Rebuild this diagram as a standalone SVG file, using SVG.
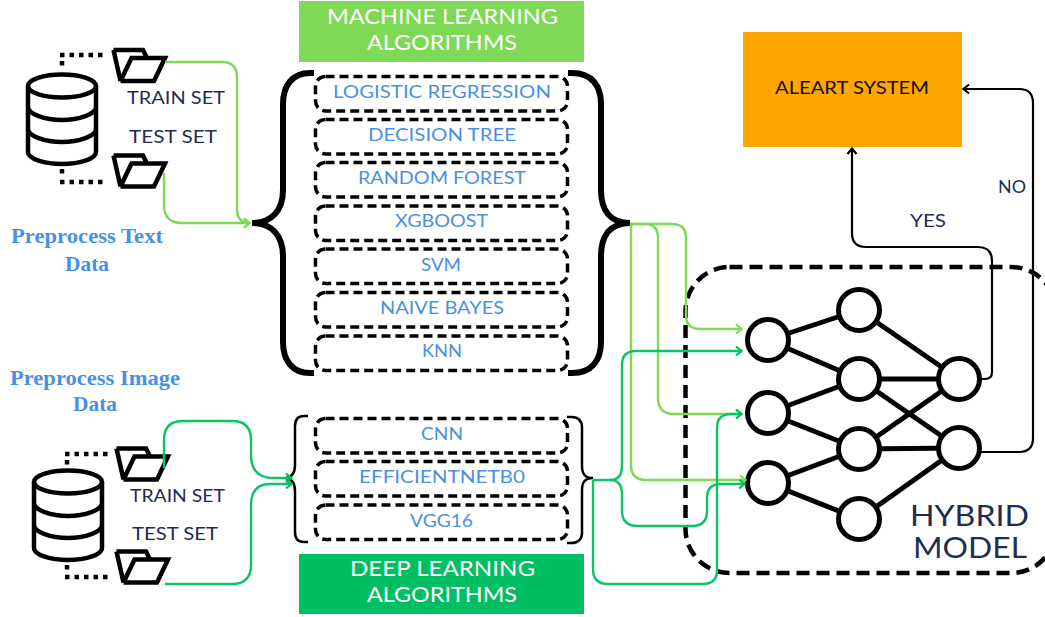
<svg xmlns="http://www.w3.org/2000/svg" width="1045" height="617" viewBox="0 0 1045 617">
<defs>
<marker id="aL" viewBox="0 0 10 12" refX="9" refY="6" markerWidth="10" markerHeight="12" markerUnits="userSpaceOnUse" orient="auto"><path d="M3 1.500L8.500 6L3 10.500" fill="none" stroke="#7ed957" stroke-width="2.200"/></marker>
<marker id="aD" viewBox="0 0 10 12" refX="9" refY="6" markerWidth="10" markerHeight="12" markerUnits="userSpaceOnUse" orient="auto"><path d="M3 1.500L8.500 6L3 10.500" fill="none" stroke="#00bf63" stroke-width="2.200"/></marker>
<marker id="aK" viewBox="0 0 10 12" refX="9" refY="6" markerWidth="10" markerHeight="12" markerUnits="userSpaceOnUse" orient="auto"><path d="M3 1.500L8.500 6L3 10.500" fill="none" stroke="#000" stroke-width="2.200"/></marker>
<g id="folder"><path d="M113.500 50H143L147 58M120.500 81L113.500 50M120.500 81H154L165 58H131.500L120.500 81" fill="none" stroke="#000" stroke-width="4.500" stroke-linejoin="miter"/></g>
<g id="db"><ellipse cx="0" cy="0" rx="34" ry="11.500" fill="#fff" stroke="#000" stroke-width="4.500"/><path d="M-34 0V66C-34 73 -17 78 0 78S34 73 34 66V0M-34 21C-34 28 -17 34 0 34S34 28 34 21M-34 43C-34 50 -17 56 0 56S34 50 34 43" fill="none" stroke="#000" stroke-width="4.500"/></g>
</defs>
<style>
.t{font-family:"Lato","Liberation Sans",sans-serif;font-weight:400}
.navy{fill:#1f2d50;font-size:17px}
.blue{fill:#4a90e2;font-size:17px}
.head{fill:#fff;font-size:21px}
.pre{font-family:"Liberation Serif",serif;font-weight:700;font-size:21px;fill:#4a90e2}
.box{fill:#fff;stroke:#000;stroke-width:3.500;stroke-dasharray:9 5}
.brace{fill:none;stroke:#000;stroke-linecap:butt}
.dots{fill:none;stroke:#000;stroke-width:4.500;stroke-dasharray:4.500 5}
.edge{stroke:#000;stroke-width:5}
.neuron{fill:#fff;stroke:#000;stroke-width:5}
.cl{fill:none;stroke:#7ed957;stroke-width:2.400}
.cd{fill:none;stroke:#0fc266;stroke-width:2.400}
.ck{fill:none;stroke:#000;stroke-width:2.200}
</style>
<rect width="1045" height="617" fill="#fff"/>

<g id="ml-header"><rect x="299" y="1" width="285" height="61" fill="#7ed957"/>
<text class="t head" x="327" y="24" textLength="231" lengthAdjust="spacingAndGlyphs">MACHINE LEARNING</text>
<text class="t head" x="367" y="50" textLength="150" lengthAdjust="spacingAndGlyphs">ALGORITHMS</text></g>
<g id="dl-header"><rect x="299" y="554" width="285" height="60" fill="#00bf63"/>
<text class="t head" x="350" y="576" textLength="185" lengthAdjust="spacingAndGlyphs">DEEP LEARNING</text>
<text class="t head" x="367" y="602" textLength="150" lengthAdjust="spacingAndGlyphs">ALGORITHMS</text></g>
<g id="alert"><rect x="743" y="32" width="219" height="115" fill="#ffa500"/>
<text class="t" x="775" y="94" font-size="17" fill="#111" textLength="154" lengthAdjust="spacingAndGlyphs">ALEART SYSTEM</text></g>

<g id="hybrid"><rect x="685.500" y="267" width="370" height="306" rx="44" fill="none" stroke="#000" stroke-width="4.500" stroke-dasharray="13 7"/>
<text class="t" x="910" y="526" font-size="28" fill="#1f2d50" textLength="119" lengthAdjust="spacingAndGlyphs">HYBRID</text>
<text class="t" x="913" y="558" font-size="28" fill="#1f2d50" textLength="114" lengthAdjust="spacingAndGlyphs">MODEL</text></g>

<g id="braces">
<path class="brace" stroke-width="6" d="M314 73H310C292 73 283 86 283 104V190C283 210 272 223 252 223C272 223 283 236 283 256V342C283 360 292 373 310 373H314"/>
<path class="brace" stroke-width="6" d="M568 73H572C592 73 601 86 601 104V190C601 210 610 223 630 223C610 223 601 236 601 256V342C601 360 592 373 572 373H568"/>
<path class="brace" stroke-width="2.500" d="M308 416H304C298 416 295 420 295 426V465C295 473 292 477 286 478C292 479 295 483 295 491V532C295 538 298 542 304 542H308"/>
<path class="brace" stroke-width="2.500" d="M567 417H572C578 417 582 421 582 427V466C582 474 585 478 593 478C585 478 582 482 582 490V533C582 539 578 543 572 543H567"/>
</g>

<g id="ml-1"><rect class="box" x="315.500" y="76.500" width="252" height="34.500" rx="10"/><text class="t blue" x="333" y="98" textLength="218" lengthAdjust="spacingAndGlyphs">LOGISTIC REGRESSION</text></g>
<g id="ml-2"><rect class="box" x="315.500" y="119.500" width="252" height="34.500" rx="10"/><text class="t blue" x="368" y="141" textLength="148" lengthAdjust="spacingAndGlyphs">DECISION TREE</text></g>
<g id="ml-3"><rect class="box" x="315.500" y="162.500" width="252" height="34.500" rx="10"/><text class="t blue" x="358" y="184" textLength="168" lengthAdjust="spacingAndGlyphs">RANDOM FOREST</text></g>
<g id="ml-4"><rect class="box" x="315.500" y="206" width="252" height="34.500" rx="10"/><text class="t blue" x="395" y="227" textLength="93" lengthAdjust="spacingAndGlyphs">XGBOOST</text></g>
<g id="ml-5"><rect class="box" x="315.500" y="249" width="252" height="34.500" rx="10"/><text class="t blue" x="421" y="271" textLength="40" lengthAdjust="spacingAndGlyphs">SVM</text></g>
<g id="ml-6"><rect class="box" x="315.500" y="292.500" width="252" height="34.500" rx="10"/><text class="t blue" x="380" y="314" textLength="124" lengthAdjust="spacingAndGlyphs">NAIVE BAYES</text></g>
<g id="ml-7"><rect class="box" x="315.500" y="336" width="252" height="34.500" rx="10"/><text class="t blue" x="422" y="357" textLength="40" lengthAdjust="spacingAndGlyphs">KNN</text></g>
<g id="dl-1"><rect class="box" x="315.500" y="418.500" width="252" height="34.500" rx="10"/><text class="t blue" x="421" y="440" textLength="42" lengthAdjust="spacingAndGlyphs">CNN</text></g>
<g id="dl-2"><rect class="box" x="315.500" y="461.500" width="252" height="34.500" rx="10"/><text class="t blue" x="359" y="483" textLength="166" lengthAdjust="spacingAndGlyphs">EFFICIENTNETB0</text></g>
<g id="dl-3"><rect class="box" x="315.500" y="505" width="252" height="34.500" rx="10"/><text class="t blue" x="410" y="527" textLength="63" lengthAdjust="spacingAndGlyphs">VGG16</text></g>

<g id="text-source">
<use href="#db" x="62" y="86"/>
<path class="dots" d="M60 55H103"/><path class="dots" d="M62 61V66"/><path class="dots" d="M62 169V174"/><path class="dots" d="M60 182H103"/>
<use href="#folder"/><use href="#folder" y="105.500"/>
<text class="t navy" x="127" y="104" textLength="98" lengthAdjust="spacingAndGlyphs">TRAIN SET</text>
<text class="t navy" x="129" y="143" textLength="88" lengthAdjust="spacingAndGlyphs">TEST SET</text>
<text class="pre" x="11" y="243" textLength="152" lengthAdjust="spacingAndGlyphs">Preprocess Text</text>
<text class="pre" x="65" y="271" textLength="44" lengthAdjust="spacingAndGlyphs">Data</text>
</g>
<g id="image-source">
<use href="#db" x="68" y="482"/>
<path class="dots" d="M65 454H108"/><path class="dots" d="M67 460V466"/><path class="dots" d="M67 565V570"/><path class="dots" d="M65 577H108"/>
<use href="#folder" x="3" y="398.500"/><use href="#folder" x="3" y="501.500"/>
<text class="t navy" x="130" y="502" textLength="95" lengthAdjust="spacingAndGlyphs">TRAIN SET</text>
<text class="t navy" x="132" y="540" textLength="86" lengthAdjust="spacingAndGlyphs">TEST SET</text>
<text class="pre" x="10" y="385" textLength="170" lengthAdjust="spacingAndGlyphs">Preprocess Image</text>
<text class="pre" x="73" y="411" textLength="44" lengthAdjust="spacingAndGlyphs">Data</text>
</g>

<g id="network">
<g id="network-edges" class="edge">
<line x1="768" y1="340" x2="859" y2="310"/><line x1="768" y1="340" x2="859" y2="379"/>
<line x1="768" y1="413" x2="859" y2="379"/><line x1="768" y1="413" x2="859" y2="449"/>
<line x1="768" y1="483" x2="859" y2="449"/><line x1="768" y1="483" x2="859" y2="519"/>
<line x1="859" y1="310" x2="959" y2="379"/><line x1="859" y1="379" x2="959" y2="379"/><line x1="859" y1="379" x2="959" y2="448"/>
<line x1="859" y1="449" x2="959" y2="379"/><line x1="859" y1="449" x2="959" y2="448"/><line x1="859" y1="519" x2="959" y2="448"/>
</g>
<circle id="n1" class="neuron" cx="768" cy="340" r="20.500"/><circle id="n2" class="neuron" cx="768" cy="413" r="20.500"/><circle id="n3" class="neuron" cx="768" cy="483" r="20.500"/>
<circle id="n4" class="neuron" cx="859" cy="310" r="20.500"/><circle id="n5" class="neuron" cx="859" cy="379" r="20.500"/><circle id="n6" class="neuron" cx="859" cy="449" r="20.500"/><circle id="n7" class="neuron" cx="859" cy="519" r="20.500"/>
<circle id="n8" class="neuron" cx="959" cy="379" r="20.500"/><circle id="n9" class="neuron" cx="959" cy="448" r="20.500"/>
</g>

<g id="connectors">
<path class="cl" marker-end="url(#aL)" d="M165 62H222Q237 62 237 77V209Q237 223 250 223"/>
<path class="cl" marker-end="url(#aL)" d="M164 173V205Q164 223 182 223H250"/>
<path class="cd" marker-end="url(#aD)" d="M164 468V440Q164 421 183 421H232Q251 421 251 440V455Q251 478 274 478H292"/>
<path class="cd" marker-end="url(#aD)" d="M165 584H232Q251 584 251 565V505Q251 484 270 484H292"/>
<path class="cl" marker-end="url(#aL)" d="M630 224H672Q686 224 686 238V315Q686 329 700 329H742"/>
<path class="cl" marker-end="url(#aL)" d="M630 224H645Q658 224 658 238V398Q658 414 674 414H742"/>
<path class="cl" marker-end="url(#aL)" d="M631 224V465Q631 480 646 480H746"/>
<path class="cd" marker-end="url(#aD)" d="M593 480H610Q622 480 622 466V365Q622 351 636 351H742"/>
<path class="cd" marker-end="url(#aD)" d="M610 480Q622 480 622 494V511Q622 526 638 526H692Q707 526 707 511V498Q707 484 721 484H745"/>
<path class="cd" marker-end="url(#aD)" d="M593 480V569Q593 584 608 584H703Q717 584 717 570V428Q717 414 731 414H742"/>
<path class="ck" marker-end="url(#aK)" d="M981 379H985Q992 379 992 372V261Q992 247 978 247H866Q852 247 852 233V148"/>
<path class="ck" marker-end="url(#aK)" d="M981 452H1019Q1033 452 1033 438V103Q1033 89 1019 89H963"/>
<text class="t navy" x="910" y="227" textLength="36" lengthAdjust="spacingAndGlyphs">YES</text>
<text class="t navy" x="998" y="193" textLength="28" lengthAdjust="spacingAndGlyphs">NO</text>
</g>
</svg>
